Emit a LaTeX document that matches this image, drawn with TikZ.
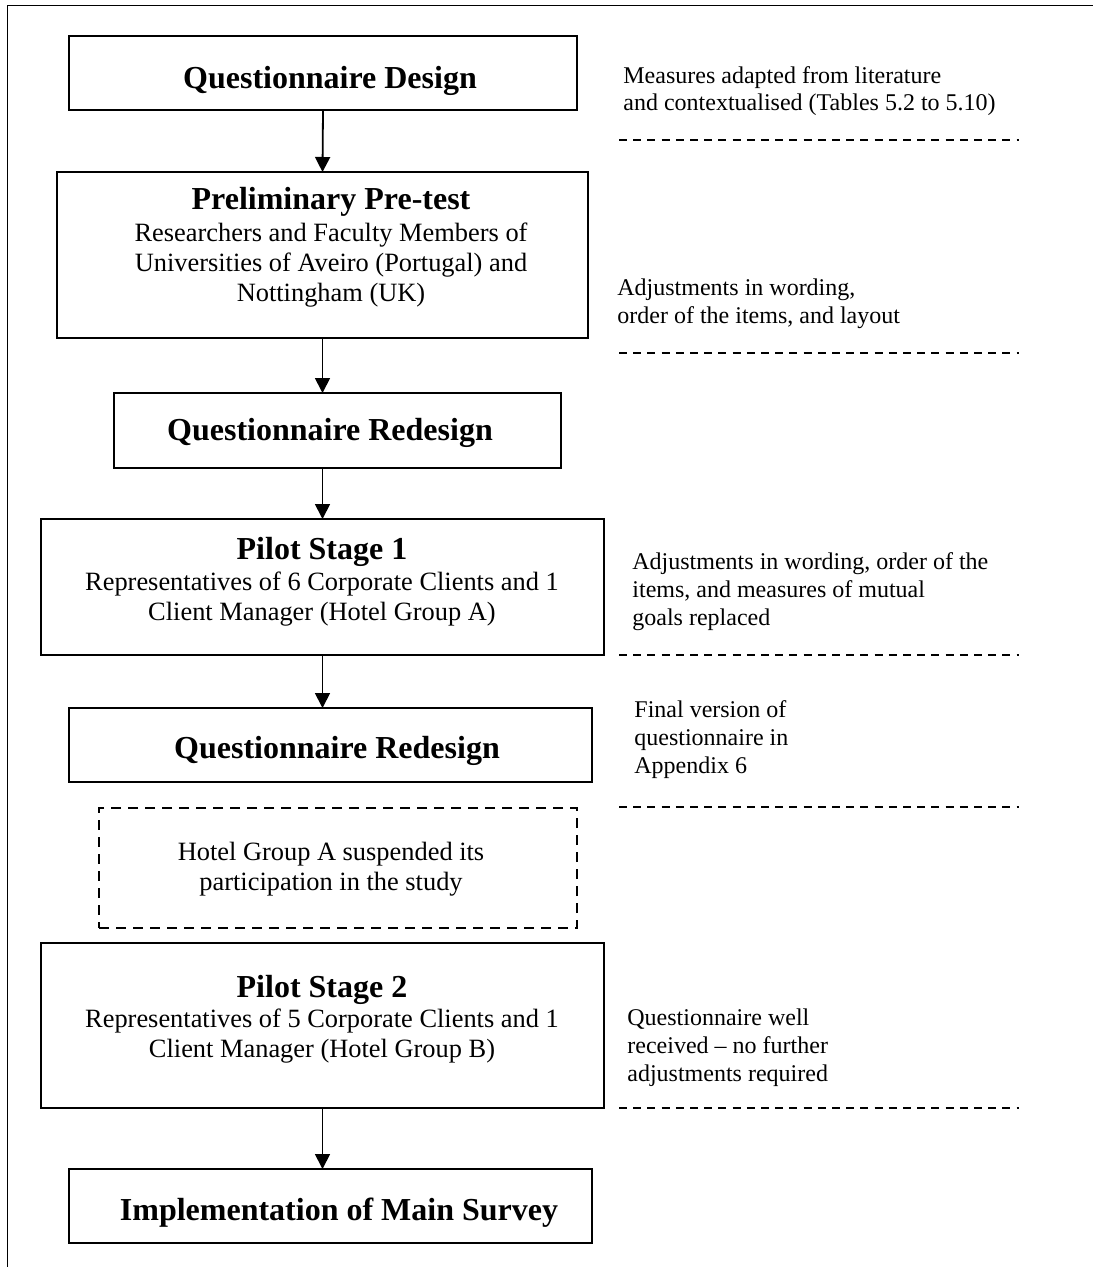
\documentclass[tikz,border=0pt]{standalone}
\usepackage{fontspec}
\setmainfont{Liberation Serif}
\usetikzlibrary{arrows.meta}
\begin{document}
\begin{tikzpicture}[x=0.5pt,y=-0.5pt,
  stage/.style={draw, line width=0.9pt, rectangle, inner sep=0pt, outer sep=0pt},
  halt/.style={draw, line width=0.75pt, dash pattern=on 5pt off 3.5pt, rectangle, inner sep=0pt, outer sep=0pt},
  title/.style={anchor=base, font=\fontsize{16}{19}\selectfont\bfseries, inner sep=0pt},
  body/.style={anchor=base, align=center, font=\fontsize{13.2}{15}\selectfont, inner sep=0pt},
  note/.style={anchor=base west, align=left, font=\fontsize{12}{13.8}\selectfont, inner sep=0pt},
  sep/.style={line width=0.6pt, dash pattern=on 4pt off 3.1pt},
  flow/.style={line width=0.9pt, -{Triangle[length=7.5pt,width=7.5pt]}},
]
\useasboundingbox (0,0) rectangle (1093,1267);
% outer frame (top and left edges)
\draw[line width=0.9pt] (7.5,1267) -- (7.5,5.5) -- (1093,5.5);

% process boxes
\node[stage, minimum width=254pt, minimum height=37pt]   (design)  at (323,73) {};
\node[stage, minimum width=265.5pt, minimum height=83pt] (pretest) at (322.5,255) {};
\node[stage, minimum width=223.5pt, minimum height=37.5pt] (redesignA) at (337.5,430.5) {};
\node[stage, minimum width=281.5pt, minimum height=68pt] (pilotA)  at (322.5,587) {};
\node[stage, minimum width=261.5pt, minimum height=37pt] (redesignB) at (330.5,745) {};
\node[halt,  minimum width=239pt, minimum height=60pt]   (suspend) at (338,868) {};
\node[stage, minimum width=281.5pt, minimum height=82.5pt] (pilotB) at (322.5,1025.5) {};
\node[stage, minimum width=261.5pt, minimum height=37pt] (survey)  at (330.5,1206) {};

% box texts (multi-line texts are placed by the baseline of their last line)
\node[title] (tDesign) at (330,89) {Questionnaire Design};
\node[title] (tPretest) at (331,210) {Preliminary Pre-test};
\node[body]  (bPretest) at (331,302) {Researchers and Faculty Members of\\Universities of Aveiro (Portugal) and\\Nottingham (UK)};
\node[title] (tRedesignA) at (330,440) {Questionnaire Redesign};
\node[title] (tPilotA) at (322,559) {Pilot Stage 1};
\node[body]  (bPilotA) at (322,620) {Representatives of 6 Corporate Clients and 1\\Client Manager (Hotel Group A)};
\node[title] (tRedesignB) at (337,758) {Questionnaire Redesign};
\node[body]  (bSuspend) at (331,890) {Hotel Group A suspended its\\participation in the study};
\node[title] (tPilotB) at (322,997) {Pilot Stage 2};
\node[body]  (bPilotB) at (322,1057) {Representatives of 5 Corporate Clients and 1\\Client Manager (Hotel Group B)};
\node[title] (tSurvey) at (339,1220) {Implementation of Main Survey};

% flow arrows
\draw[flow] (design.south) -- (pretest.north);
\draw[flow] (pretest.south) -- (pretest.south |- redesignA.north);
\draw[flow] (pretest.south |- redesignA.south) -- (pilotA.north);
\draw[flow] (pilotA.south) -- (pilotA.south |- redesignB.north);
\draw[flow] (pilotB.south) -- (pilotB.south |- survey.north);

% side notes
\node[note] (nDesign) at (623,111) {Measures adapted from literature\\and contextualised (Tables 5.2 to 5.10)};
\node[note] (nPretest) at (617,323) {Adjustments in wording,\\order of the items, and layout};
\node[note] (nPilotA) at (632,625) {Adjustments in wording, order of the\\items, and measures of mutual\\goals replaced};
\node[note] (nRedesign) at (634,773) {Final version of\\questionnaire in\\Appendix 6};
\node[note] (nPilotB) at (627,1081) {Questionnaire well\\received -- no further\\adjustments required};

% separators between the stages
\foreach \yy in {140,353,655,807,1108}
  \draw[sep] (619,\yy) -- (1019,\yy);
\end{tikzpicture}
\end{document}
